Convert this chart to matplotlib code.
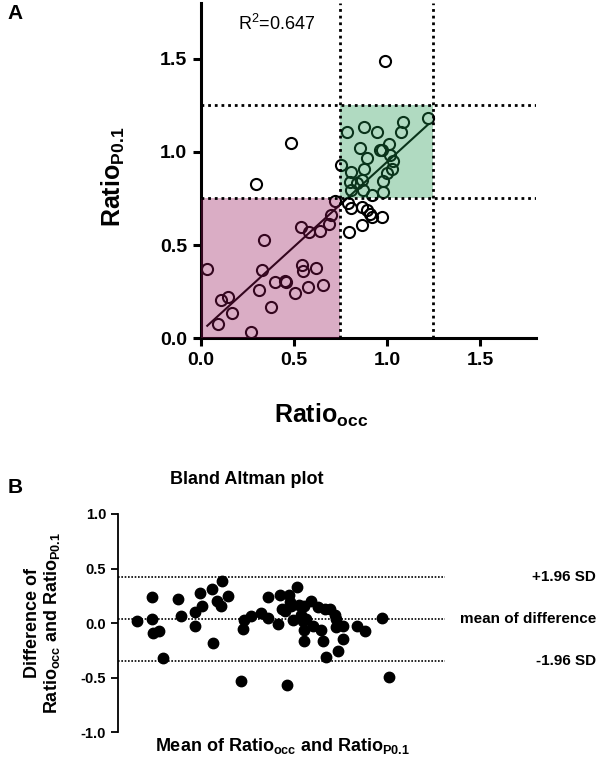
import numpy as np
import matplotlib
matplotlib.use('Agg')
import matplotlib.pyplot as plt
from matplotlib.patches import Rectangle
from matplotlib.transforms import blended_transform_factory

plt.rcParams.update({
	'font.family': 'Liberation Sans',
	'mathtext.fontset': 'custom',
	'mathtext.rm': 'Liberation Sans',
	'mathtext.it': 'Liberation Sans:italic',
	'mathtext.bf': 'Liberation Sans:bold',
})

# panel A: ratio from occlusion vs ratio from P0.1
ratio_occ = [
	0.034, 0.093, 0.108, 0.143, 0.165, 0.271, 0.314, 0.330, 0.339, 0.376,
	0.396, 0.450, 0.457, 0.504, 0.536, 0.543, 0.547, 0.577, 0.582, 0.618,
	0.640, 0.658, 0.690, 0.697, 0.720,
	0.294, 0.482, 0.989,
	0.783, 0.875, 0.946, 1.085, 1.074, 1.222, 0.853, 0.964, 0.975, 1.011,
	0.894, 1.014, 1.030, 0.755, 0.874, 1.026, 0.809, 1.000, 0.837, 0.980,
	0.866, 0.801, 0.806, 0.871, 0.917, 0.977,
	0.790, 0.805, 0.864, 0.894, 0.909, 0.918, 0.975, 0.864, 0.797,
]
ratio_p01 = [
	0.369, 0.075, 0.204, 0.222, 0.136, 0.034, 0.258, 0.366, 0.527, 0.168,
	0.303, 0.308, 0.303, 0.240, 0.598, 0.392, 0.360, 0.276, 0.568, 0.378,
	0.575, 0.285, 0.611, 0.661, 0.738,
	0.826, 1.050, 1.489,
	1.106, 1.136, 1.105, 1.163, 1.109, 1.184, 1.023, 1.013, 1.010, 1.041,
	0.969, 0.981, 0.953, 0.930, 0.906, 0.906, 0.890, 0.889, 0.835, 0.845,
	0.849, 0.841, 0.794, 0.794, 0.770, 0.786,
	0.724, 0.697, 0.706, 0.688, 0.665, 0.652, 0.652, 0.608, 0.571,
]
fit_slope = 0.911
fit_intercept = 0.035
r_squared = 0.647
low_cut = 0.75
high_cut = 1.25

# panel B: Bland Altman
ba_mean = [
	0.090, 0.158, 0.158, 0.162, 0.190, 0.208, 0.277, 0.292, 0.353, 0.356,
	0.379, 0.387, 0.431, 0.437, 0.457, 0.471, 0.479, 0.506, 0.566, 0.572,
	0.578, 0.613, 0.656, 0.688, 0.690, 0.735, 0.743, 0.754, 0.768, 0.774,
	0.783, 0.789, 0.794, 0.804, 0.820, 0.832, 0.839, 0.847, 0.853, 0.853,
	0.856, 0.865, 0.884, 0.896, 0.919, 0.934, 0.942, 0.950, 0.954, 0.972,
	0.995, 0.999, 1.000, 1.011, 1.034, 1.034, 1.098, 1.133, 1.213, 1.245,
]
ba_diff = [
	0.021, 0.239, 0.034, -0.089, -0.073, -0.324, 0.217, 0.064, -0.028, 0.104,
	0.272, 0.156, 0.312, -0.180, 0.202, 0.156, 0.385, 0.248, -0.529, -0.058,
	0.028, 0.067, 0.095, 0.241, 0.049, -0.009, 0.257, 0.126, 0.110, -0.569,
	0.257, 0.195, 0.156, 0.028, 0.333, 0.165, 0.073, 0.021, 0.156, -0.162,
	-0.064, 0.034, 0.202, -0.028, 0.144, -0.064, -0.162, 0.126, -0.309, 0.126,
	0.073, 0.034, -0.034, -0.257, -0.028, -0.150, -0.028, -0.070, 0.049, -0.492,
]
ba_bias = 0.035
ba_upper = 0.42
ba_lower = -0.35


fig = plt.figure(figsize=(5.98, 7.58), dpi=100)

# ---- A ----
ax = fig.add_axes([0.336, 0.554, 0.560, 0.442])
ax.plot(ratio_occ, ratio_p01, 'o', ms=8, mfc='none', mec='black', mew=1.5, zorder=3)
xs = np.array([min(ratio_occ), max(ratio_occ)])
ax.plot(xs, fit_slope * xs + fit_intercept, color='black', lw=1.5, zorder=3)
ax.add_patch(Rectangle((0, 0), low_cut, low_cut, facecolor=(0.59, 0.08, 0.35),
	alpha=0.35, lw=0, zorder=4))
ax.add_patch(Rectangle((low_cut, low_cut), high_cut - low_cut, high_cut - low_cut,
	facecolor=(0.12, 0.59, 0.31), alpha=0.35, lw=0, zorder=4))
dots = dict(color='black', lw=2, ls=(0, (1, 1.4)), zorder=5)
for c in (low_cut, high_cut):
	ax.axvline(c, **dots)
	ax.axhline(c, **dots)
ax.set_xlim(0, 1.8)
ax.set_ylim(0, 1.8)
ax.set_xticks([0, 0.5, 1.0, 1.5])
ax.set_yticks([0, 0.5, 1.0, 1.5])
ax.set_xticklabels(['0.0', '0.5', '1.0', '1.5'])
ax.set_yticklabels(['0.0', '0.5', '1.0', '1.5'])
for s in ('top', 'right'):
	ax.spines[s].set_visible(False)
for s in ('left', 'bottom'):
	ax.spines[s].set_linewidth(2.2)
ax.tick_params(width=2.2, length=6, labelsize=14, pad=4)
for t in ax.get_xticklabels() + ax.get_yticklabels():
	t.set_fontweight('bold')
ax.set_xlabel(r'Ratio$_{\mathbf{occ}}$', fontsize=18, fontweight='bold')
ax.set_ylabel(r'Ratio$_{\mathbf{P0.1}}$', fontsize=18, fontweight='bold')
ax.xaxis.set_label_coords(0.36, -0.19)
ax.yaxis.set_label_coords(-0.22, 0.48)
ax.text(0.2, 1.69, r'R$^2$=%.3f' % r_squared, fontsize=13, va='center')

# ---- B ----
bx = fig.add_axes([0.197, 0.0343, 0.547, 0.2876])
bx.plot(ba_mean, ba_diff, 'o', ms=7.5, color='black', zorder=3)
for v in (ba_upper, ba_bias, ba_lower):
	bx.axhline(v, color='black', lw=1.2, ls=(0, (1, 1)))
bx.set_xlim(0, 1.5)
bx.set_ylim(-1, 1)
bx.set_yticks([-1, -0.5, 0, 0.5, 1.0])
bx.set_yticklabels(['-1.0', '-0.5', '0.0', '0.5', '1.0'])
bx.set_xticks([])
for s in ('top', 'right', 'bottom'):
	bx.spines[s].set_visible(False)
bx.spines['left'].set_linewidth(1.3)
bx.tick_params(axis='y', width=1.3, length=5, labelsize=10.5)
for t in bx.get_yticklabels():
	t.set_fontweight('bold')
bx.set_ylabel('Difference of\n' + r'Ratio$_{\mathbf{occ}}$ and Ratio$_{\mathbf{P0.1}}$',
	fontsize=13, fontweight='bold', linespacing=1.05)
bx.yaxis.set_label_coords(-0.17, 0.50)
bx.set_xlabel(r'Mean of Ratio$_{\mathbf{occ}}$ and Ratio$_{\mathbf{P0.1}}$',
	fontsize=13, fontweight='bold')
bx.xaxis.set_label_coords(0.505, -0.02)
side = blended_transform_factory(fig.transFigure, bx.transData)
for v, lab in ((ba_upper, '+1.96 SD'), (ba_bias, 'mean of difference'), (ba_lower, '-1.96 SD')):
	bx.text(0.997, v, lab, transform=side, ha='right', va='center', fontsize=11, fontweight='bold')

fig.text(0.413, 0.368, 'Bland Altman plot', ha='center', va='center', fontsize=13, fontweight='bold')
fig.text(0.013, 0.982, 'A', fontsize=15, fontweight='bold', va='center')
fig.text(0.013, 0.357, 'B', fontsize=15, fontweight='bold', va='center')

fig.savefig('out.png', dpi=100)
